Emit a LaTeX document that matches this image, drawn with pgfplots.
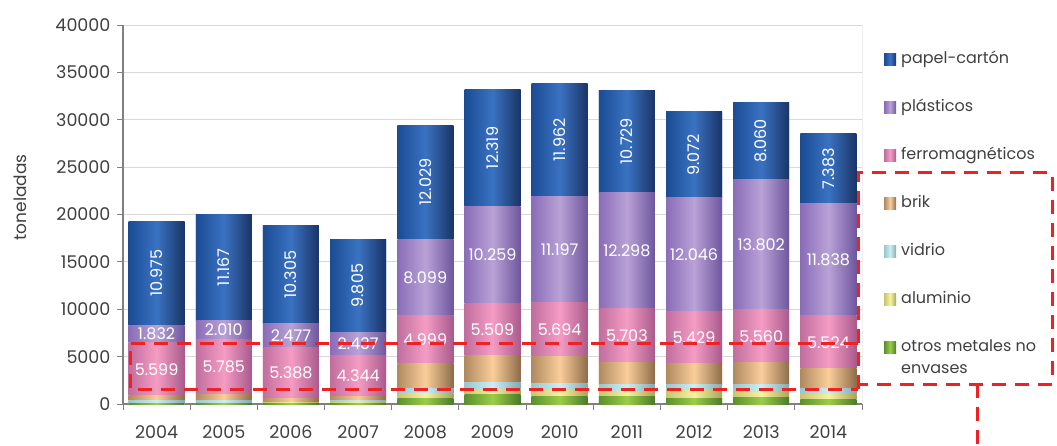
\documentclass[border=0pt]{standalone}
\usepackage{graphicx}
\usepackage{pgfplots}
\pgfplotsset{compat=1.18}
\usepackage{fontspec}
\setmainfont{Poppins}
\definecolor{textgray}{HTML}{404040}
\definecolor{gridgray}{HTML}{D9D9D9}
\definecolor{axisgray}{HTML}{808080}
\definecolor{redline}{HTML}{EE2222}
\definecolor{papelL}{HTML}{1B4C94}\definecolor{papelM}{HTML}{3A72C2}\definecolor{papelR}{HTML}{1A3466}
\definecolor{plasL}{HTML}{8A6CB8}\definecolor{plasM}{HTML}{B9A2D6}\definecolor{plasR}{HTML}{6E569E}
\definecolor{ferroL}{HTML}{C06E9E}\definecolor{ferroM}{HTML}{F59CC4}\definecolor{ferroR}{HTML}{A85A8C}
\definecolor{brikL}{HTML}{B08A60}\definecolor{brikM}{HTML}{FACE9A}\definecolor{brikR}{HTML}{8E6C4A}
\definecolor{vidrioL}{HTML}{98C8CC}\definecolor{vidrioM}{HTML}{CDEEF2}\definecolor{vidrioR}{HTML}{80AAB0}
\definecolor{aluL}{HTML}{C8C470}\definecolor{aluM}{HTML}{F6F3A0}\definecolor{aluR}{HTML}{A8A458}
\definecolor{otrosL}{HTML}{5A9030}\definecolor{otrosM}{HTML}{9CCC48}\definecolor{otrosR}{HTML}{4A7A28}
% shaded segment drawn over each stacked bar (node sits at the segment centre);
% #1 left colour, #2 centre colour, #3 right colour, #4 label mode
\newcommand\seg[4]{%
  \pgfkeys{/pgf/fpu=true,/pgf/fpu/output format=fixed}%
  \pgfmathsetmacro\segh{\pgfplotspointmeta*0.009475}%
  \pgfmathsetmacro\segc{\pgfplotspointmeta*0.0047375}%
  \pgfkeys{/pgf/fpu=false}%
  \makebox[0pt]{\raisebox{-\segc pt}[0pt][0pt]{\tikz\shade[left color=#1,right color=#3,middle color=#2] (0pt,0pt) rectangle (56pt,\segh pt);}}%
  \ifcase#4\or
    \makebox[0pt]{\raisebox{-0.5\height}[0pt][0pt]{\pgfmathprintnumber[1000 sep={.}]{\pgfplotspointmeta}}}%
  \or
    \makebox[0pt]{\raisebox{-0.5\height}[0pt][0pt]{\rotatebox{90}{\pgfmathprintnumber[1000 sep={.}]{\pgfplotspointmeta}}}}%
  \fi}
\pgfplotsset{seg/.style n args={4}{draw=none, fill=#2,
   nodes near coords={\seg{#1}{#2}{#3}{#4}},
   legend image code/.code={\shade[left color=#1,right color=#3,middle color=#2] (0pt,-6pt) rectangle (12pt,6pt);}}}
\begin{document}
\begin{tikzpicture}[x=1pt,y=1pt]
\useasboundingbox (0,0) rectangle (1057,445);
\begin{axis}[
  at={(123pt,41pt)}, anchor=south west,
  scale only axis, width=739pt, height=379pt,
  ybar stacked, bar width=56pt,
  xmin=-0.5, xmax=10.5, ymin=0, ymax=40000,
  xtick={0,...,10},
  xticklabels={2004,2005,2006,2007,2008,2009,2010,2011,2012,2013,2014},
  major x tick style={draw=none},
  minor xtick={-0.5,0.5,...,10.5},
  ytick={0,5000,...,40000},
  scaled y ticks=false,
  tick align=outside, major tick length=6pt, minor tick length=6pt,
  ymajorgrids, grid style={draw=gridgray, line width=0.8pt},
  axis x line*=bottom, axis y line*=left,
  axis line style={draw=axisgray, line width=1.2pt, -},
  tick style={draw=axisgray, line width=1pt},
  /pgf/number format/1000 sep={},
  /pgf/number format/assume math mode=true,
  tick label style={font=\fontsize{17.5}{20}\selectfont, text=textgray},
  xticklabel style={yshift=-12.5pt},
  yticklabel style={xshift=-3pt},
  ylabel={toneladas},
  ylabel style={at={(axis description cs:-0.1394,0.545)}, anchor=center, font=\fontsize{17}{20}\selectfont, text=textgray},
  reverse legend,
  legend style={draw=none, fill=none, at={(axis description cs:1,1)}, anchor=north west,
    xshift=22pt, yshift=-26pt, inner sep=0pt, legend cell align=left,
    font=\fontsize{16}{22}\selectfont, text=textgray, row sep=31pt, column sep=4pt,
    nodes={inner sep=1pt, text height=11pt, text depth=4pt}},
  point meta=rawy,
  every node near coord/.append style={inner sep=0pt, outer sep=0pt, text=white, font=\fontsize{16}{18}\selectfont},
]
\addplot[seg={otrosL}{otrosM}{otrosR}{0}]
 coordinates {(0,30) (1,40) (2,40) (3,40) (4,600) (5,1055) (6,810) (7,775) (8,630) (9,700) (10,460)};
\addlegendentry{\begin{tabular}[t]{@{}l@{}}otros metales no\\envases\end{tabular}}
\addplot[seg={aluL}{aluM}{aluR}{0}]
 coordinates {(0,50) (1,60) (2,70) (3,100) (4,460) (5,490) (6,600) (7,530) (8,775) (9,530) (10,530)};
\addlegendentry{aluminio}
\addplot[seg={vidrioL}{vidrioM}{vidrioR}{0}]
 coordinates {(0,280) (1,320) (2,20) (3,210) (4,600) (5,740) (6,775) (7,775) (8,700) (9,845) (10,630)};
\addlegendentry{vidrio}
\addplot[seg={brikL}{brikM}{brikR}{0}]
 coordinates {(0,520) (1,630) (2,490) (3,460) (4,2640) (5,2810) (6,2810) (7,2290) (8,2180) (9,2290) (10,2145)};
\addlegendentry{brik}
\addplot[seg={ferroL}{ferroM}{ferroR}{1}]
 coordinates {(0,5599) (1,5785) (2,5388) (3,4344) (4,4999) (5,5509) (6,5694) (7,5703) (8,5429) (9,5560) (10,5524)};
\addlegendentry{ferromagnéticos}
\addplot[seg={plasL}{plasM}{plasR}{1}]
 coordinates {(0,1832) (1,2010) (2,2477) (3,2437) (4,8099) (5,10259) (6,11197) (7,12298) (8,12046) (9,13802) (10,11838)};
\addlegendentry{plásticos}
\addplot[seg={papelL}{papelM}{papelR}{2}]
 coordinates {(0,10975) (1,11167) (2,10305) (3,9805) (4,12029) (5,12319) (6,11962) (7,10729) (8,9072) (9,8060) (10,7383)};
\addlegendentry{papel-cartón}
\draw[axisgray, line width=1pt] (rel axis cs:1,0) -- (rel axis cs:1,1);
\end{axis}
\begin{scope}[redline, line width=3pt, dash pattern=on 14pt off 9pt]
\draw (858,102) -- (130,102) -- (130,56) -- (858,56);
\draw (858,56) -- (858,272) -- (1052,272) -- (1052,61) -- (858,61);
\draw (977,61) -- (977,0);
\end{scope}
\end{tikzpicture}
\end{document}
